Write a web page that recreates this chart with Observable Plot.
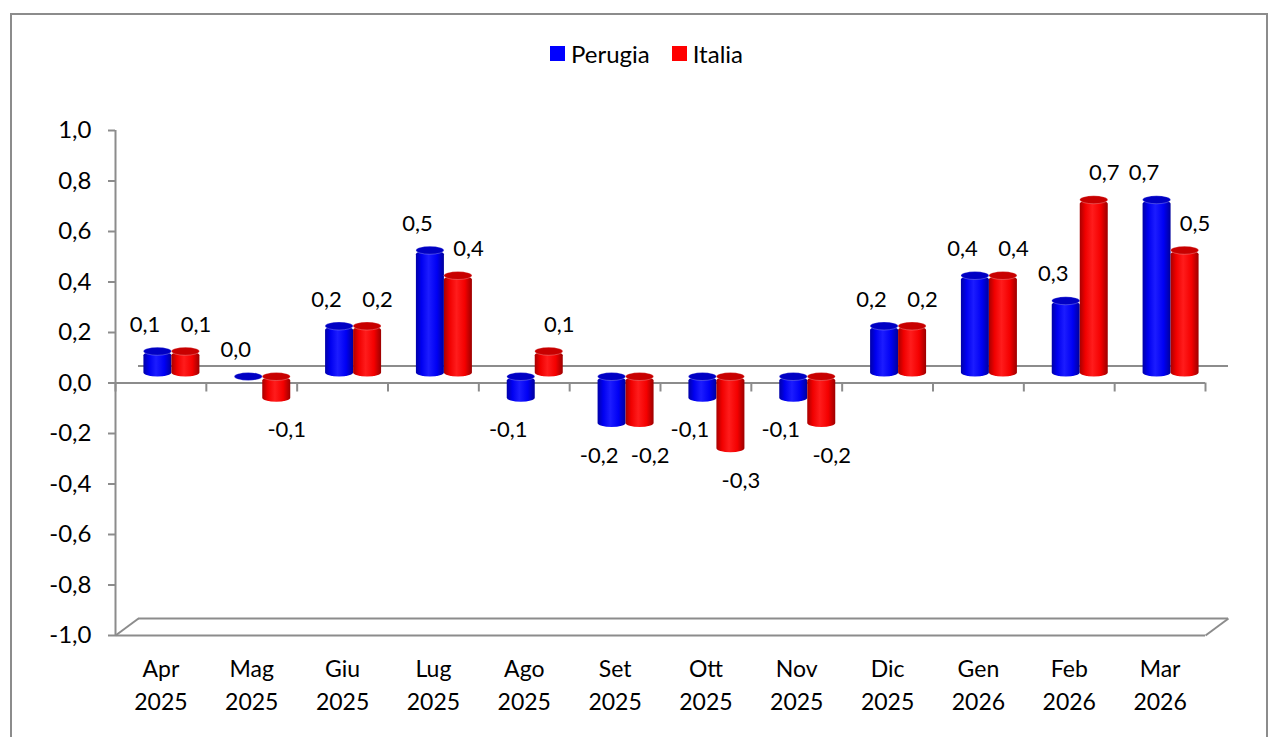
<!DOCTYPE html>
<html>
<head>
<meta charset="utf-8">
<script src="https://cdn.jsdelivr.net/npm/d3@7"></script>
<script src="https://cdn.jsdelivr.net/npm/@observablehq/plot@0.6"></script>
<style>
  body { margin: 0; background: #fff; font-family: Lato, "Open Sans", sans-serif; }
  #wrap { position: relative; width: 1269px; height: 737px; overflow: hidden; background: #fff; }
  #frame { position: absolute; left: 10px; top: 13px; width: 1258px; height: 760px; border: 2px solid #8c8c8c; box-sizing: border-box; }
  #legend { position: absolute; top: 38px; left: 550px; height: 30px; display: flex; align-items: center; font-size: 24px; color: #000; }
  #legend .sw { width: 15px; height: 15px; display: inline-block; margin-right: 6px; }
  #legend .item { display: flex; align-items: center; margin-right: 22px; }
  #chart { position: absolute; left: 0; top: 90px; }
</style>
</head>
<body>
<div id="wrap">
  <div id="frame"></div>
  <div id="legend"></div>
  <div id="chart"></div>
</div>
<script>
// ---- data ----
const months = ["Apr", "Mag", "Giu", "Lug", "Ago", "Set", "Ott", "Nov", "Dic", "Gen", "Feb", "Mar"];
const years  = ["2025", "2025", "2025", "2025", "2025", "2025", "2025", "2025", "2025", "2026", "2026", "2026"];
const seriesNames = ["Perugia", "Italia"];
const perugia = [0.1, 0.0, 0.2, 0.5, -0.1, -0.2, -0.1, -0.1, 0.2, 0.4, 0.3, 0.7];
const italia  = [0.1, -0.1, 0.2, 0.4, 0.1, -0.2, -0.3, -0.2, 0.2, 0.4, 0.7, 0.5];
const yTicks  = [-1.0, -0.8, -0.6, -0.4, -0.2, 0.0, 0.2, 0.4, 0.6, 0.8, 1.0];

// ---- styling / layout ----
const W = 1269, H = 647;
const mL = 115, mR = 64, mT = 40, mB = 102;
const pxX = (W - mL - mR) / months.length;   // px per category
const pxY = (H - mT - mB) / 2;                // px per unit
const depthX = 23, depthY = 17;               // 3D depth of floor / back wall
const barOffX = 11, barOffY = -6;             // bars sit mid-depth
const barW = 28 / pxX;                        // bar width in category units
const grey = "#8c8c8c";
const fmt = v => d3.format(".1f")(v).replace("−", "-").replace(".", ",");

const colors = {Perugia: "#0000ff", Italia: "#ff0000"};

// legend
const legend = document.getElementById("legend");
seriesNames.forEach(n => {
  const it = document.createElement("span");
  it.className = "item";
  it.innerHTML = `<span class="sw" style="background:${colors[n]}"></span>${n}`;
  legend.appendChild(it);
});

const rowsFor = (name, vals) => vals.map((v, i) => ({i, s: name, v}));
const rowsP = rowsFor("Perugia", perugia);
const rowsI = rowsFor("Italia", italia);

function seriesMarks(rows, side, grad, topFill, labelDx) {
  const x1 = d => d.i + 0.5 + (side < 0 ? -barW : 0);
  const x2 = d => d.i + 0.5 + (side < 0 ? 0 : barW);
  const e = 4 / pxY;
  return [
    Plot.rect(rows, {x1, x2, y1: 0, y2: d => d.v, fill: grad, rx: 14, ry: 4, dx: barOffX, dy: barOffY}),
    Plot.rect(rows, {x1, x2, y1: d => Math.max(d.v, 0) - e, y2: d => Math.max(d.v, 0) + e,
      fill: topFill, stroke: "#ffffff", strokeOpacity: 0.25, strokeWidth: 1, rx: 14, ry: 4, dx: barOffX, dy: barOffY}),
    Plot.text(rows.filter(d => d.v >= 0), {x: d => (x1(d) + x2(d)) / 2, y: d => d.v, text: d => fmt(d.v),
      dx: barOffX + labelDx, dy: barOffY - 27, fontSize: 22, fill: "#000"}),
    Plot.text(rows.filter(d => d.v < 0), {x: d => (x1(d) + x2(d)) / 2, y: d => d.v, text: d => fmt(d.v),
      dx: barOffX + labelDx, dy: barOffY + 28, fontSize: 22, fill: "#000"})
  ];
}

const chart = Plot.plot({
  width: W, height: H,
  marginLeft: mL, marginRight: mR, marginTop: mT, marginBottom: mB,
  style: {fontFamily: "Lato, 'Open Sans', sans-serif", background: "transparent", overflow: "visible"},
  x: {type: "linear", domain: [0, months.length]},
  y: {domain: [-1, 1]},
  marks: [
    // back wall zero line and floor
    Plot.ruleY([0], {dx: depthX, dy: -depthY, stroke: grey, strokeWidth: 2}),
    Plot.ruleY([-1], {dx: depthX, dy: -depthY, stroke: grey, strokeWidth: 2}),
    Plot.ruleY([-1], {stroke: grey, strokeWidth: 2}),
    Plot.link([0, months.length], {x1: d => d, y1: -1, x2: d => d + depthX / pxX, y2: -1 + depthY / pxY, stroke: grey, strokeWidth: 2}),
    // y axis
    Plot.ruleX([0], {y1: -1, y2: 1, stroke: grey, strokeWidth: 2}),
    Plot.axisY({ticks: yTicks, tickFormat: fmt, tickSize: 7, tickPadding: 17, fontSize: 24,
      stroke: grey, strokeWidth: 2, fill: "#000", label: null}),
    // front zero axis with category boundary ticks
    Plot.ruleY([0], {stroke: grey, strokeWidth: 2}),
    Plot.ruleX(d3.range(months.length + 1), {y1: 0, y2: -9 / pxY, stroke: grey, strokeWidth: 2}),
    Plot.axisX({ticks: d3.range(months.length).map(i => i + 0.5),
      tickFormat: d => months[Math.floor(d)] + "\n" + years[Math.floor(d)],
      tickSize: 0, tickPadding: 18, fontSize: 23, lineHeight: 1.43, fill: "#000", label: null}),
    // bars
    ...seriesMarks(rowsP, -1, "url(#gBlue)", "#0000c4", -13),
    ...seriesMarks(rowsI, 1, "url(#gRed)", "#c80000", 10)
  ]
});

// cylinder shading gradients
const defs = d3.select(chart).insert("defs", ":first-child");
function grad(id, stops) {
  const g = defs.append("linearGradient").attr("id", id).attr("x1", "0").attr("x2", "1").attr("y1", "0").attr("y2", "0");
  stops.forEach(([o, c]) => g.append("stop").attr("offset", o).attr("stop-color", c));
}
grad("gBlue", [["0", "#0000a8"], ["0.2", "#0000f0"], ["0.45", "#1c1cff"], ["0.75", "#0000f4"], ["1", "#00009c"]]);
grad("gRed",  [["0", "#a80000"], ["0.2", "#f00000"], ["0.45", "#ff1c1c"], ["0.75", "#f40000"], ["1", "#9c0000"]]);

document.getElementById("chart").appendChild(chart);
</script>
</body>
</html>
